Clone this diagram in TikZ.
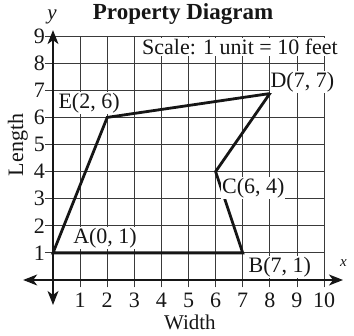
\documentclass[tikz,border=0pt]{standalone}
\usepackage{fontspec}
\setmainfont{Liberation Serif}
\usetikzlibrary{arrows.meta}
\definecolor{ink}{HTML}{161616}
\definecolor{gridgray}{HTML}{3A3A3A}
\tikzset{
  gridline/.style={draw=gridgray,line width=0.8pt},
  axis/.style={draw=ink,line width=1.1pt,{Stealth[length=14pt,width=11pt,inset=4pt]}-{Stealth[length=14pt,width=11pt,inset=4pt]}},
  outline/.style={draw=ink,line width=2.8pt,line join=miter},
  tag/.style={text=ink,font=\fontsize{22}{25}\selectfont,fill=white,inner sep=1pt},
  tick/.style={text=ink,font=\fontsize{22}{25}\selectfont,inner sep=0pt},
  heading/.style={text=ink,font=\bfseries\fontsize{23}{27}\selectfont,inner sep=0pt}
}

\begin{document}
\begin{tikzpicture}[x=27.1pt,y=27.1pt]
  \path[use as bounding box] (-1.956,-2.03) rectangle (11.107,10.332);

  % Grid with small ticks past the axes.
  \foreach \i in {1,...,10}
    \draw[gridline] (\i,-0.27) -- (\i,9);
  \foreach \j in {1,...,9}
    \draw[gridline] (-0.3,\j) -- (10,\j);

  % Axes.
  \coordinate (xmin) at (-1.1,0);
  \coordinate (xmax) at (10.7,0);
  \coordinate (ymin) at (0,-0.92);
  \coordinate (ymax) at (0,9.22);
  \draw[axis] (xmin) -- (xmax);
  \draw[axis] (ymin) -- (ymax);

  % Tick labels.
  \foreach \i in {1,...,10}
    \node[tick] (xt\i) at (\i,-0.76) {\i};
  \foreach \j in {1,...,9}
    \node[tick] (yt\j) at (-0.5,\j) {\j};

  \node[tick,font=\itshape\fontsize{15}{17}\selectfont] (xname) at (10.72,0.64) {x};
  \node[tick,font=\itshape\fontsize{21}{24}\selectfont] (yname) at (-0.04,9.72) {y};
  \node[tick,font=\fontsize{21}{24}\selectfont] (width) at (5.05,-1.56) {Width};
  \node[tick,rotate=90] (length) at (-1.3,4.98) {Length};
  \node[heading] (title) at (4.8,9.83) {Property Diagram};

  % Property outline.
  \coordinate (ptA) at (0,1);
  \coordinate (ptB) at (7,1);
  \coordinate (ptC) at (6,4);
  \coordinate (ptD) at (8,6.88);
  \coordinate (ptE) at (2,6);
  \draw[outline] (ptA) -- (ptB) -- (ptC) -- (ptD) -- (ptE) -- cycle;

  \node[tag] (scale) at (6.9,8.6) {Scale: 1 unit = 10 feet};
  \node[tag] (labA) at (1.92,1.55) {A(0, 1)};
  \node[tag] (labB) at (8.37,0.48) {B(7, 1)};
  \node[tag] (labC) at (7.39,3.4) {C(6, 4)};
  \node[tag] (labD) at (9.2,7.3) {D(7, 7)};
  \node[tag] (labE) at (1.33,6.53) {E(2, 6)};
\end{tikzpicture}
\end{document}
